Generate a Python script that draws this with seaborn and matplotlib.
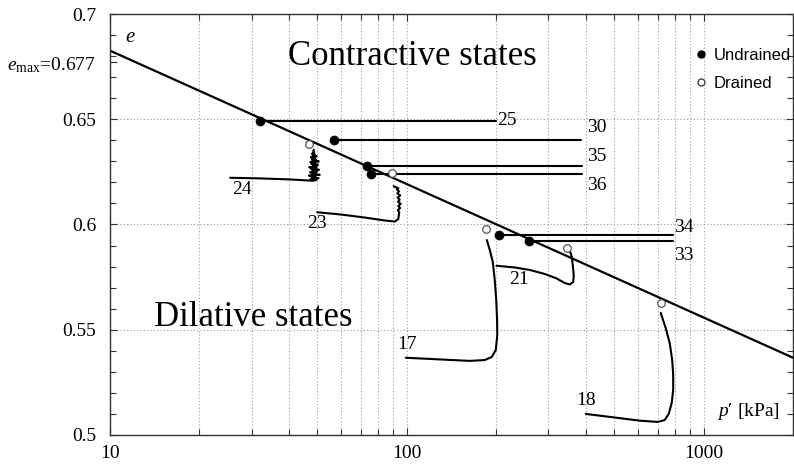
import numpy as np
import pandas as pd
import matplotlib
matplotlib.use("Agg")
import matplotlib.pyplot as plt
import matplotlib.lines as mlines
from matplotlib.ticker import FixedLocator, LogLocator, MultipleLocator, NullFormatter
import seaborn as sns

# ---- critical state line (e vs. log p') ----
csl_p = [10, 2000]
csl_e = [0.6826, 0.5367]

# ---- undrained tests: start state on the CSL, constant void ratio ----
und_ids = ["25", "30", "35", "36", "34", "33"]
und_p = [32.0, 56.8, 73.7, 76.0, 204.0, 257.0]
und_e = [0.649, 0.640, 0.628, 0.624, 0.595, 0.592]
und_p_end = [200, 385, 390, 390, 790, 790]

# ---- drained tests: final state (open circles) ----
dr_ids = ["24", "23", "17", "21", "18"]
dr_p = [47.0, 89.0, 185.0, 346.0, 716.0]
dr_e = [0.6381, 0.6246, 0.598, 0.589, 0.5628]

# drained paths in the e - p' plane
path24_p = [25.4, 32.0, 40.4, 45.4,
            48.3, 49.6, 47.4, 50.4, 47.9, 49.2, 46.8, 50.9, 48.0, 49.5, 47.2, 49.9,
            48.1, 50.6, 47.6, 49.3, 46.9, 49.8, 48.2, 50.2, 47.7, 49.1, 47.3, 50.5,
            48.0, 49.4, 47.8, 49.0, 47.5, 49.7, 48.2, 49.0, 47.9, 48.8, 48.4, 48.6]
path24_e = [0.6222, 0.6219, 0.6214, 0.6210,
            0.6208, 0.6212, 0.6216, 0.6220, 0.6224, 0.6228, 0.6232, 0.6236, 0.6240, 0.6244,
            0.6248, 0.6252, 0.6256, 0.6260, 0.6264, 0.6268, 0.6272, 0.6276, 0.6280, 0.6284,
            0.6288, 0.6292, 0.6296, 0.6300, 0.6304, 0.6308, 0.6312, 0.6316, 0.6320, 0.6324,
            0.6328, 0.6332, 0.6336, 0.6342, 0.6348, 0.6355]

path23_p = [49.9, 59.5, 72.2, 84.3, 91.1, 93.6, 94.3,
            93.2, 94.9, 93.6, 95.4, 93.4, 94.6, 93.1, 95.0, 92.9, 94.1, 92.6, 93.6, 91.5, 90.3]
path23_e = [0.6058, 0.6048, 0.6033, 0.6019, 0.6014, 0.6026, 0.6059,
            0.6068, 0.6078, 0.6088, 0.6098, 0.6108, 0.6118, 0.6128, 0.6138, 0.6148, 0.6158,
            0.6166, 0.6172, 0.6178, 0.6182]

path21_p = [200.4, 230.9, 259.5, 291.5, 319.2, 340.4, 353.8, 363.6, 365.0,
            362.2, 359.4, 355.2, 351.1]
path21_e = [0.5804, 0.5796, 0.5784, 0.5765, 0.5744, 0.5722, 0.5715, 0.5727, 0.5760,
            0.5808, 0.5846, 0.5869, 0.5881]

path17_p = [99.2, 129.2, 163.0, 183.0, 193.3, 199.4, 201.7, 201.4, 200.1,
            197.8, 194.8, 190.3, 186.0]
path17_e = [0.5367, 0.5359, 0.5352, 0.5356, 0.5371, 0.5404, 0.5475, 0.5546, 0.5641,
            0.5736, 0.5822, 0.5879, 0.5926]

path18_p = [400.6, 482.6, 608.9, 700.1, 739.0, 762.4, 780.3, 789.4, 789.4,
            783.3, 768.2, 744.8, 716.6]
path18_e = [0.5100, 0.5086, 0.5068, 0.5062, 0.5071, 0.5100, 0.5152, 0.5214, 0.5285,
            0.5356, 0.5437, 0.5508, 0.5580]

# label positions for each test number
lab_text = ["25", "30", "35", "36", "34", "33", "24", "23", "21", "17", "18"]
lab_p = [217, 435, 435, 435, 856, 856, 27.8, 49.8, 238, 100, 400]
lab_e = [0.6492, 0.6463, 0.6321, 0.6183, 0.5988, 0.5855, 0.6164, 0.6007, 0.5741, 0.5428, 0.5166]

# ---- tidy tables ----
rows = []
for tid, p0, e0, p1 in zip(und_ids, und_p, und_e, und_p_end):
    rows.append((tid, p0, e0, 0))
    rows.append((tid, p1, e0, 1))
paths = {"24": (path24_p, path24_e), "23": (path23_p, path23_e),
         "21": (path21_p, path21_e), "17": (path17_p, path17_e),
         "18": (path18_p, path18_e)}
for tid, (pp, ee) in paths.items():
    for k, (p, e) in enumerate(zip(pp, ee)):
        rows.append(("d" + tid, p, e, k))
paths_df = pd.DataFrame(rows, columns=["test", "p", "e", "step"])
csl_df = pd.DataFrame({"p": csl_p, "e": csl_e})
und_df = pd.DataFrame({"test": und_ids, "p": und_p, "e": und_e})
dr_df = pd.DataFrame({"test": dr_ids, "p": dr_p, "e": dr_e})

# ---- style ----
sns.set_style("ticks")
plt.rcParams["font.family"] = ["Liberation Serif", "DejaVu Serif"]
plt.rcParams["mathtext.fontset"] = "custom"
plt.rcParams["mathtext.rm"] = "Liberation Serif"
plt.rcParams["mathtext.it"] = "Liberation Serif:italic"
plt.rcParams["text.color"] = "black"

fig = plt.figure(figsize=(7.94, 4.70), dpi=100)
ax = fig.add_axes([0.1385, 0.0745, 0.8603, 0.8957])

sns.lineplot(data=csl_df, x="p", y="e", color="black", lw=1.6, ax=ax)
sns.lineplot(data=paths_df, x="p", y="e", units="test", estimator=None, sort=False,
             color="black", lw=1.5, ax=ax)
sns.scatterplot(data=und_df, x="p", y="e", color="black", s=42, edgecolor="black",
                linewidth=0.5, zorder=5, ax=ax)
sns.scatterplot(data=dr_df, x="p", y="e", color="white", s=30, edgecolor="#555555",
                linewidth=0.9, zorder=5, ax=ax)

ax.set_xscale("log")
ax.set_xlim(10, 2000)
ax.set_ylim(0.5, 0.7)
ax.set_xlabel("")
ax.set_ylabel("")

# ticks
ax.xaxis.set_major_locator(FixedLocator([10, 100, 1000]))
ax.xaxis.set_minor_locator(LogLocator(base=10, subs=np.arange(2, 10)))
ax.xaxis.set_minor_formatter(NullFormatter())
ax.set_xticklabels(["10", "100", "1000"])
yt = [0.5, 0.55, 0.6, 0.65, 0.677, 0.7]
ax.yaxis.set_major_locator(FixedLocator(yt))
ax.yaxis.set_minor_locator(MultipleLocator(0.01))
ax.set_yticklabels(["0.5", "0.55", "0.6", "0.65", r"$e_{\mathrm{max}}$=0.677", "0.7"])
ax.tick_params(which="both", direction="in", top=True, right=True, color="#333333",
               width=0.8, labelcolor="black")
ax.tick_params(which="major", length=5)
ax.tick_params(which="minor", length=4)
ax.tick_params(axis="y", which="major", labelsize=14, pad=10)
ax.tick_params(axis="x", which="major", labelsize=14, pad=7)

# grid
ax.grid(True, axis="x", which="both", ls=(0, (1, 2)), color="#999999", lw=0.8)
ax.grid(True, axis="y", which="major", ls=(0, (1, 2)), color="#999999", lw=0.8)
for tk in ax.yaxis.get_major_ticks():
    if abs(tk.get_loc() - 0.677) < 1e-6:
        tk.gridline.set_visible(False)
        tk.tick2line.set_visible(False)

for sp in ax.spines.values():
    sp.set_color("#333333")
    sp.set_linewidth(1.0)

# annotations
for t, p, e in zip(lab_text, lab_p, lab_e):
    ax.text(p, e, t, fontsize=14, ha="center", va="center")
ax.text(104.8, 0.6796, "Contractive states", fontsize=25, ha="center", va="center")
ax.text(30.3, 0.5556, "Dilative states", fontsize=25, ha="center", va="center")
ax.text(0.022, 0.945, "$e$", fontsize=15, transform=ax.transAxes, ha="left", va="center")
ax.text(0.934, 0.055, "$p$\u2032 [kPa]", fontsize=14, transform=ax.transAxes,
        ha="center", va="center")

# legend
h_und = mlines.Line2D([], [], ls="none", marker="o", ms=5, mfc="black", mec="black")
h_dr = mlines.Line2D([], [], ls="none", marker="o", ms=5, mfc="white", mec="#444444",
                     mew=1.0)
leg = ax.legend([h_und, h_dr], ["Undrained", "Drained"], loc="upper left",
                bbox_to_anchor=(0.856, 0.92), frameon=False, borderpad=0,
                borderaxespad=0, handlelength=0.8, handletextpad=0.35,
                labelspacing=0.8, prop={"family": "Liberation Sans", "size": 12})
for txt in leg.get_texts():
    txt.set_color("black")

fig.savefig("out.png", dpi=100)
